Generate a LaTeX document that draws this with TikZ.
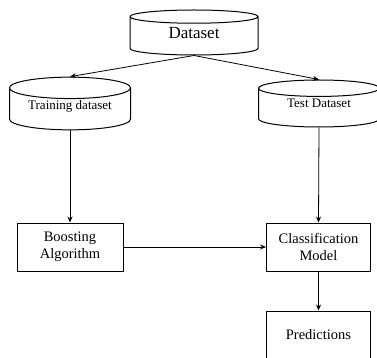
\documentclass[tikz,border=0pt]{standalone}
\usepackage{fontspec}
\setmainfont{Liberation Serif}
\usepackage{tikz}
\usetikzlibrary{positioning,arrows.meta,shapes.geometric}

\begin{document}
\begin{tikzpicture}[
  x=1pt, y=1pt,
  db/.style      = {cylinder, shape border rotate=90, draw, aspect=0.25, line width=1pt,
                    minimum width=121pt, minimum height=47pt, inner sep=1pt, anchor=shape center,
                    text depth=11pt, font=\fontsize{13}{15}\selectfont},
  stage/.style   = {rectangle, draw, line width=1pt, minimum width=104pt, minimum height=48pt,
                    align=center, font=\fontsize{14.5}{17}\selectfont},
  flow/.style    = {-{Stealth[length=6pt,width=5pt]}, line width=0.8pt}
]
\useasboundingbox (0,0) rectangle (377,-358);
\clip (0,0) rectangle (377,-358);

% Data stores
\node[db, minimum width=128pt, minimum height=45pt, text depth=8pt,
      font=\fontsize{17}{20}\selectfont] (dataset) at (194,-32.5) {Dataset};
\node[db] (train) at (70,-103.5)  {Training dataset};
\node[db] (test)  at (319,-103.5) {Test Dataset};

% Processing steps
\node[stage, minimum width=106pt] (boost) at (70,-247)    {Boosting\\Algorithm};
\node[stage] (model)  at (318.5,-247) {Classification\\Model};
\node[stage] (pred)   at (318.5,-335) {Predictions};

% Connectors
\draw[flow] (dataset.south) -- (train.north);
\draw[flow] (dataset.south) -- (test.north);
\draw[flow] (train.south) -- (boost.north);
\draw[flow] (test.south) -- (model.north);
\draw[flow] (boost.east) -- (model.west);
\draw[flow] (model.south) -- (pred.north);
\end{tikzpicture}
\end{document}
